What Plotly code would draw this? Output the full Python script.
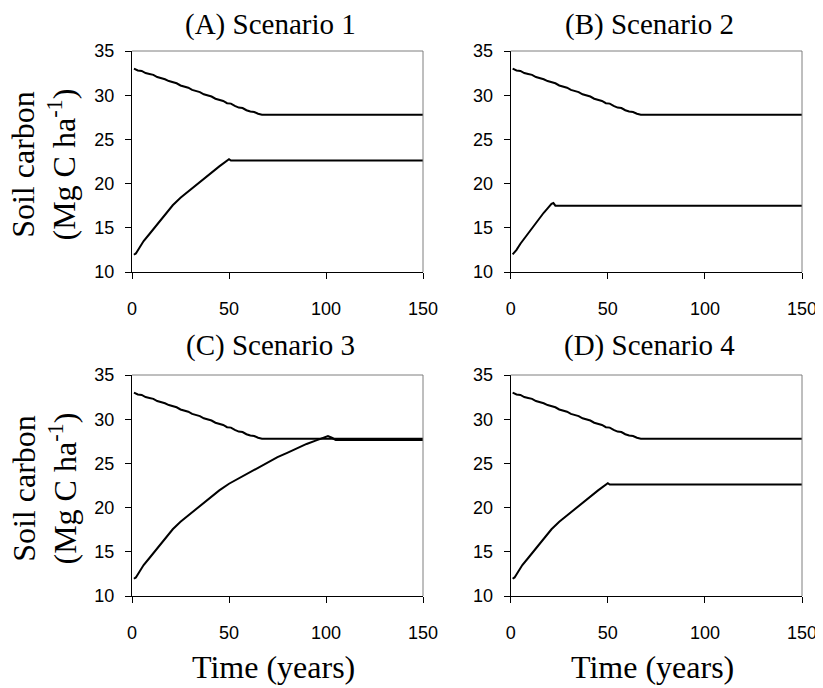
import plotly.graph_objects as go

# page body has an 8px margin: the figure is drawn 8px smaller and every
# pixel position below is given in page coordinates, shifted by OFF
OFF = 8
W, H = 823 - OFF, 688 - OFF

# ---------------- data ----------------
# upper line (same in all scenarios)
top_years = [1, 3, 5, 7, 9, 11, 13, 15, 17, 19, 21, 23, 25, 27, 29, 31, 33, 35, 37, 39,
             41, 43, 45, 47, 49, 51, 53, 55, 57, 59, 61, 63, 65, 67, 150]
top_vals = [33.0, 32.8, 32.75, 32.5, 32.4, 32.3, 32.05, 31.95, 31.8, 31.6, 31.45, 31.35,
            31.1, 31.0, 30.85, 30.6, 30.5, 30.35, 30.1, 30.0, 29.85, 29.6, 29.5, 29.35,
            29.1, 29.05, 28.8, 28.6, 28.55, 28.3, 28.15, 28.1, 27.9, 27.8, 27.8]

# lower line, scenario 1 (A)
s1_years = [1, 2, 4, 6, 9, 12, 16, 21, 25, 30, 35, 40, 45, 50, 51, 150]
s1_vals = [11.95, 12.1, 12.8, 13.5, 14.3, 15.1, 16.2, 17.55, 18.4, 19.3, 20.2, 21.15,
           21.95, 22.75, 22.6, 22.6]

# lower line, scenario 2 (B)
s2_years = [1, 3, 5, 7, 9, 11, 13, 15, 17, 19, 21, 22, 23, 150]
s2_vals = [12.0, 12.5, 13.2, 13.8, 14.3, 14.9, 15.5, 16.1, 16.7, 17.2, 17.7, 17.8, 17.5, 17.5]

# lower line, scenario 3 (C)
s3_years = [1, 2, 4, 6, 9, 12, 16, 21, 25, 30, 35, 40, 45, 50, 55, 60, 65, 70, 75,
            80, 85, 90, 95, 100, 101, 103, 105, 150]
s3_vals = [11.95, 12.1, 12.8, 13.5, 14.3, 15.1, 16.2, 17.55, 18.4, 19.3, 20.2, 21.15,
           21.95, 22.7, 23.3, 23.9, 24.5, 25.1, 25.7, 26.2, 26.7, 27.2, 27.6, 28.0, 28.1,
           27.9, 27.65, 27.65]

# lower line, scenario 4 (D)
s4_years = [1, 2, 4, 6, 9, 12, 16, 21, 25, 30, 35, 40, 45, 50, 51, 150]
s4_vals = [11.95, 12.1, 12.8, 13.5, 14.3, 15.1, 16.2, 17.55, 18.4, 19.3, 20.2, 21.15,
           21.95, 22.75, 22.6, 22.6]

panel_titles = ["(A) Scenario 1", "(B) Scenario 2", "(C) Scenario 3", "(D) Scenario 4"]
x_ticks = [0, 50, 100, 150]
y_ticks = [10, 15, 20, 25, 30, 35]

lower = [(s1_years, s1_vals), (s2_years, s2_vals), (s3_years, s3_vals), (s4_years, s4_vals)]

# ---------------- layout geometry (page pixels) ----------------
cols = [(132, 423), (510.7, 802)]
rows = [(51, 272), (375, 596)]
title_y = [24, 345]


def px(x):
    return (x - OFF) / W


def py(y):
    return 1 - (y - OFF) / H


fig = go.Figure()
layout = dict(width=W, height=H,
              margin=dict(l=0, r=0, t=0, b=0, pad=0, autoexpand=False),
              paper_bgcolor="white", plot_bgcolor="white", showlegend=False)

tickfont = dict(family="Liberation Sans", size=18, color="black")
annotations = []
shapes = []

for i in range(4):
    r, c = divmod(i, 2)
    sfx = "" if i == 0 else str(i + 1)
    x0, x1 = cols[c]
    y0, y1 = rows[r]
    layout["xaxis" + sfx] = dict(domain=[px(x0), px(x1)], anchor="y" + sfx, range=[0, 150],
                                 tickvals=x_ticks, ticks="outside", ticklen=6,
                                 tickcolor="black", showline=True, linecolor="black",
                                 linewidth=1, showgrid=False, zeroline=False,
                                 automargin=False,
                                 tickfont=tickfont, ticklabelstandoff=14)
    layout["yaxis" + sfx] = dict(domain=[py(y1), py(y0)], anchor="x" + sfx, range=[10, 35],
                                 tickvals=y_ticks, ticks="outside", ticklen=6,
                                 tickcolor="black", showline=True, linecolor="black",
                                 linewidth=1, showgrid=False, zeroline=False,
                                 automargin=False,
                                 tickfont=tickfont, ticklabelstandoff=7)
    xr = "x" + sfx
    yr = "y" + sfx
    fig.add_trace(go.Scatter(x=top_years, y=top_vals, mode="lines",
                             line=dict(color="black", width=2),
                             xaxis=xr, yaxis=yr, hoverinfo="skip"))
    ly, lv = lower[i]
    fig.add_trace(go.Scatter(x=ly, y=lv, mode="lines",
                             line=dict(color="black", width=2),
                             xaxis=xr, yaxis=yr, hoverinfo="skip"))
    # gray box top / right
    shapes.append(dict(type="line", xref=xr + " domain", yref=yr + " domain",
                       x0=0, x1=1, y0=1, y1=1, line=dict(color="#7f7f7f", width=1)))
    shapes.append(dict(type="line", xref=xr + " domain", yref=yr + " domain",
                       x0=1, x1=1, y0=0, y1=1, line=dict(color="#7f7f7f", width=1)))
    # panel title
    annotations.append(dict(text=panel_titles[i], xref="paper", yref="paper",
                            x=px((x0 + x1) / 2 - 7), y=py(title_y[r]),
                            xanchor="center", yanchor="middle", showarrow=False,
                            font=dict(family="Liberation Serif", size=29, color="black")))
    if c == 0:
        annotations.append(dict(text="Soil carbon<br>(Mg C ha<sup>-1</sup>)",
                                xref="paper", yref="paper", x=px(44),
                                y=py((y0 + y1) / 2 + 3), xanchor="center",
                                yanchor="middle", textangle=-90, showarrow=False,
                                font=dict(family="Liberation Serif", size=32,
                                          color="black")))
    if r == 1:
        annotations.append(dict(text="Time (years)", xref="paper", yref="paper",
                                x=px((x0 + x1) / 2 - 4), y=py(667),
                                xanchor="center", yanchor="middle", showarrow=False,
                                font=dict(family="Liberation Serif", size=32,
                                          color="black")))

layout["annotations"] = annotations
layout["shapes"] = shapes
fig.update_layout(**layout)
fig.write_html("out.html")
